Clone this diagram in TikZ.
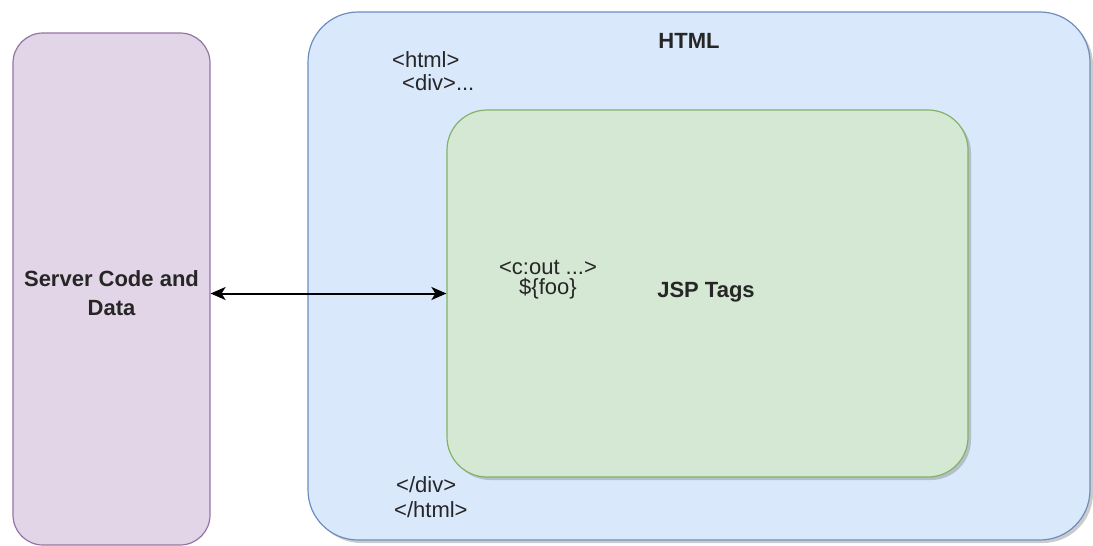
\documentclass[tikz,border=0pt]{standalone}
\usepackage{fontspec}
\setmainfont{Liberation Sans}
\usetikzlibrary{arrows.meta,shadows}
\definecolor{srvfill}{HTML}{E1D5E7}
\definecolor{srvline}{HTML}{9673A6}
\definecolor{htmlfill}{HTML}{DAE8FC}
\definecolor{htmlline}{HTML}{6C8EBF}
\definecolor{jspfill}{HTML}{D5E8D4}
\definecolor{jspline}{HTML}{82B366}

\begin{document}
\begin{tikzpicture}[x=1pt,y=-1pt,
  box/.style={draw,line width=1.2pt,inner sep=0pt},
  shade/.style={drop shadow={shadow xshift=3pt,shadow yshift=-3pt,opacity=.45,fill=black!45}},
  txt/.style={inner sep=0pt,text=black!85,font=\fontsize{22}{24}\selectfont},
  bold/.style={txt,font=\fontsize{22}{29}\selectfont\bfseries},
  tip/.tip={Stealth[length=15pt,width=13pt,inset=4pt]}]
\useasboundingbox (0,0) rectangle (1093,546);
\node[box,fill=srvfill,draw=srvline,rounded corners=30pt,minimum width=197pt,minimum height=512pt] (server) at (111.5,289) {};
\node[box,shade,fill=htmlfill,draw=htmlline,rounded corners=50pt,minimum width=782pt,minimum height=528pt] (html) at (699,276) {};
\node[box,shade,fill=jspfill,draw=jspline,rounded corners=40pt,minimum width=521pt,minimum height=367pt] (jsp) at (707.5,293.5) {};
% labels
\node[bold,align=center] (serverlbl) at (111.5,293) {Server Code and\\Data};
\node[bold,anchor=base] (htmllbl) at (689,48) {HTML};
\node[txt,anchor=base west] (open1) at (392,67) {<html>};
\node[txt,anchor=base west] (open2) at (402,90) {<div>...};
\node[txt,anchor=base west] (close1) at (396,492) {</div>};
\node[txt,anchor=base west] (close2) at (394,517) {</html>};
\node[txt,align=center,font=\fontsize{22}{20}\selectfont] (cout) at (548,280) {<c:out ...>\\\$\{foo\}};
\node[bold,anchor=base] (jsplbl) at (706,297) {JSP Tags};
\draw[line width=2pt,tip-tip] (server.east |- jsp.west) -- (jsp.west);
\end{tikzpicture}
\end{document}
